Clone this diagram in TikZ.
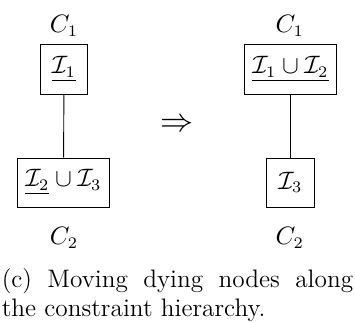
\documentclass[tikz,border=0pt]{standalone}
\usepackage{amsmath, amssymb}
\usetikzlibrary{positioning}

\begin{document}
\begin{tikzpicture}[scale=1.0, >=latex]
  \tikzset{
    every node/.style={font=\fontsize{10.7}{12.8}\selectfont},
    cbox/.style={draw, minimum width=0.73cm, minimum height=0.75cm, inner sep=2pt},
    clabel/.style={inner sep=0pt}
  }
  \useasboundingbox (0,0) rectangle (5.425,-4.921);
  % Left hierarchy
  \node[clabel] (cOneL) at (0.978,-0.40) {$C_1$};
  \node[cbox] (topL) at (0.978,-1.062) {$\underline{\mathcal{I}_1}$};
  \node[cbox, minimum width=1.42cm] (botL) at (0.970,-2.789) {$\underline{\mathcal{I}_2} \cup \mathcal{I}_3$};
  \node[clabel] (cTwoL) at (0.978,-3.64) {$C_2$};
  \draw (topL) -- (botL);
  % Implication
  \node (imp) at (2.705,-1.91) {\Large $\Rightarrow$};
  % Right hierarchy
  \node[clabel] (cOneR) at (4.43,-0.40) {$C_1$};
  \node[cbox, minimum width=1.42cm] (topR) at (4.439,-1.062) {$\underline{\mathcal{I}_1 \cup \mathcal{I}_2}$};
  \node[cbox] (botR) at (4.439,-2.789) {$\mathcal{I}_3$};
  \node[clabel] (cTwoR) at (4.43,-3.64) {$C_2$};
  \draw (topR) -- (botR);
  % Caption
  \node[anchor=north west, inner sep=0pt, text width=5.37cm, align=justify,
        font=\fontsize{11}{12.6}\selectfont] (capt) at (0.02,-4.10)
    {(c) Moving dying nodes along the constraint hierarchy.};
\end{tikzpicture}
\end{document}
